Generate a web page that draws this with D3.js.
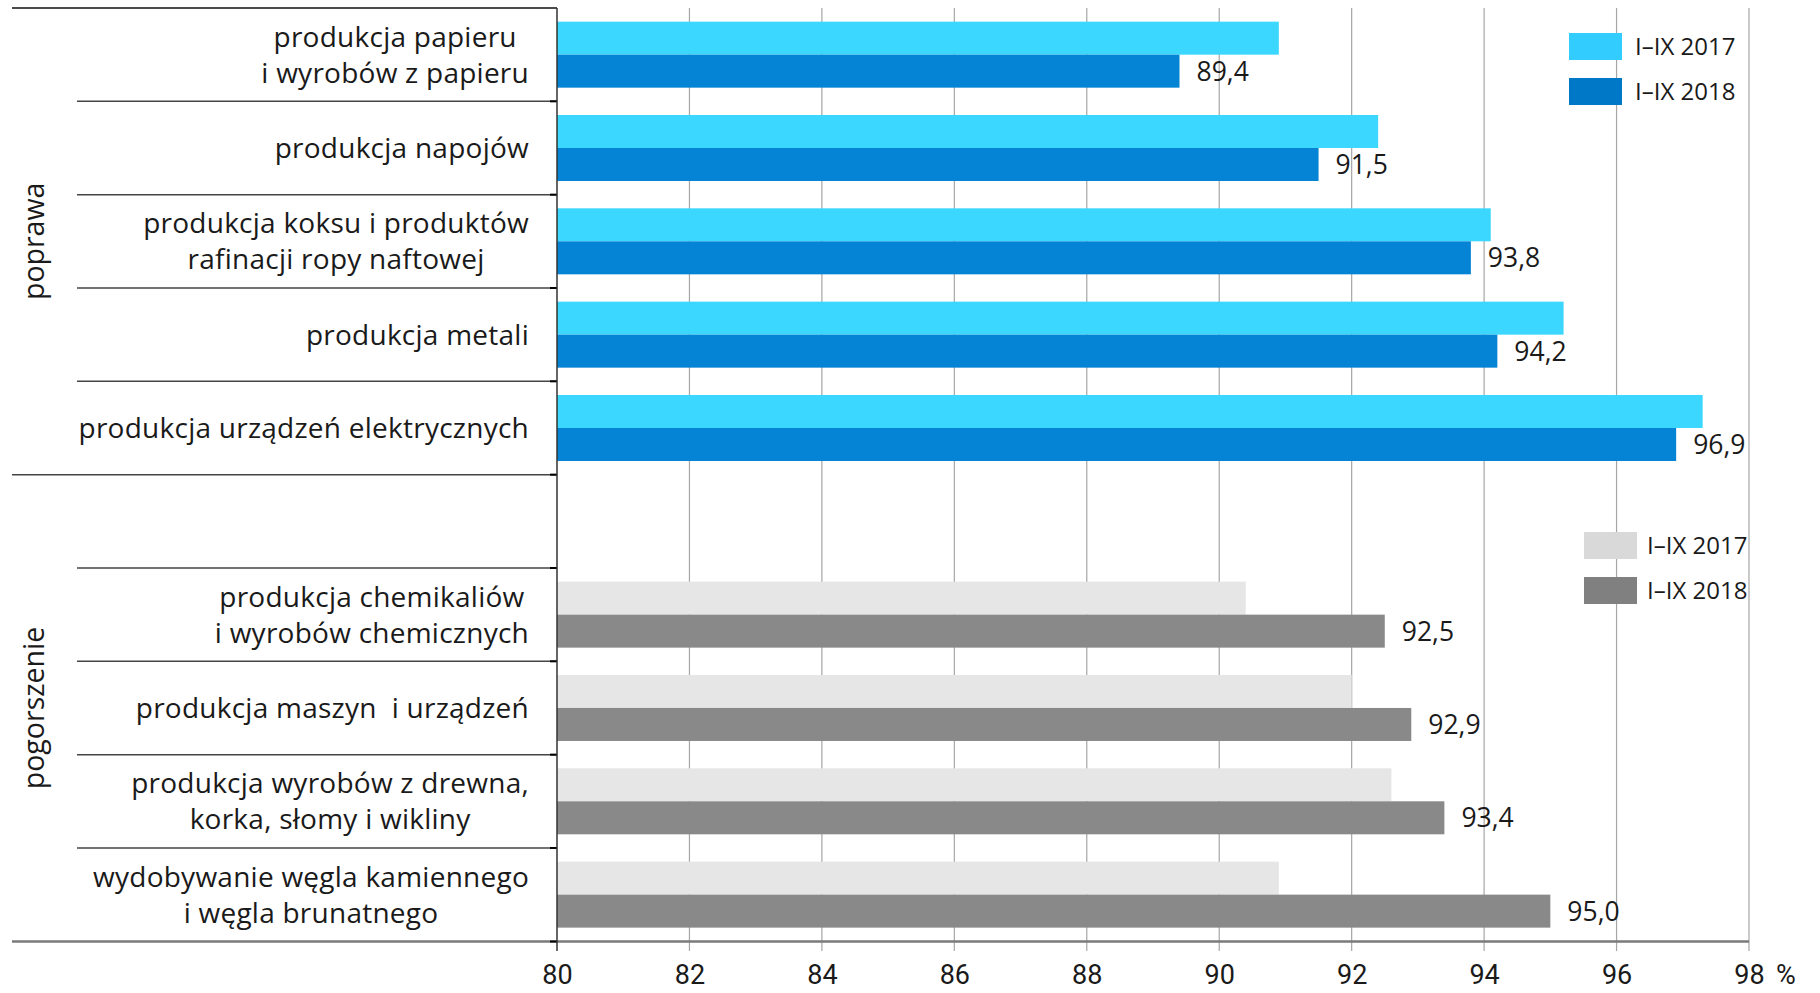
<!DOCTYPE html>
<html>
<head>
<meta charset="utf-8">
<script src="https://cdn.jsdelivr.net/npm/d3@7"></script>
<style>
  html, body { margin: 0; padding: 0; background: #fff; }
  svg { display: block; }
</style>
</head>
<body>
<svg id="chart" width="1820" height="993"></svg>
<script>
// ---- data ----
const groupLabels = ["poprawa", "pogorszenie"];
const upCategories = [
  ["produkcja papieru", "i wyrobów z papieru"],
  ["produkcja napojów"],
  ["produkcja koksu i produktów", "rafinacji ropy naftowej"],
  ["produkcja metali"],
  ["produkcja urządzeń elektrycznych"]
];
const up2017 = [90.9, 92.4, 94.1, 95.2, 97.3];
const up2018 = [89.4, 91.5, 93.8, 94.2, 96.9];
const downCategories = [
  ["produkcja chemikaliów", "i wyrobów chemicznych"],
  ["produkcja maszyn  i urządzeń"],
  ["produkcja wyrobów z drewna,", "korka, słomy i wikliny"],
  ["wydobywanie węgla kamiennego", "i węgla brunatnego"]
];
const down2017 = [90.4, 92.0, 92.6, 90.9];
const down2018 = [92.5, 92.9, 93.4, 95.0];
const seriesNames = ["I–IX 2017", "I–IX 2018"];
const xTicks = [80, 82, 84, 86, 88, 90, 92, 94, 96, 98];
const xUnit = "%";

// ---- styles ----
const colUp = ["#3bd7ff", "#0583d4"];
const colUpLegend = ["#33ccff", "#0078c8"];
const colDown = ["#e6e6e6", "#898989"];
const colDownLegend = ["#d9d9d9", "#808080"];
const textCol = "#1a1a1a";
const catFont = "'Open Sans', sans-serif";
const tickFont = "Roboto, sans-serif";
const legFont = "'Open Sans', sans-serif";

// rows: 5 up, 1 empty slot, 4 down
const rows = [];
upCategories.forEach((c, i) => rows.push({lines: c, v: [up2017[i], up2018[i]], cols: colUp}));
rows.push(null);
downCategories.forEach((c, i) => rows.push({lines: c, v: [down2017[i], down2018[i]], cols: colDown}));

const svg = d3.select("#chart");

const x = d3.scaleLinear().domain([80, 98]).range([557, 1749]);
const y = d3.scaleBand().domain(d3.range(rows.length)).range([8, 941.3]).paddingInner(0).paddingOuter(0);
const sub = d3.scaleBand().domain([0, 1]).range([0, y.step()]).paddingInner(0).paddingOuter(0.414);

const axisY = 941.5;

// grid lines (with tick extension below axis)
svg.append("g").selectAll("line").data(xTicks.slice(1)).join("line")
  .attr("x1", d => x(d)).attr("x2", d => x(d))
  .attr("y1", 8).attr("y2", 951)
  .attr("stroke", "#a6a6a6").attr("stroke-width", 1.2);

// bars
const rowG = svg.append("g").selectAll("g").data(rows.map((r, i) => ({r, i})).filter(d => d.r)).join("g")
  .attr("transform", d => `translate(0,${y(d.i)})`);

rowG.selectAll("rect").data(d => d.r.v.map((v, k) => ({v, k, col: d.r.cols[k]}))).join("rect")
  .attr("x", x(80))
  .attr("y", d => sub(d.k))
  .attr("width", d => x(d.v) - x(80))
  .attr("height", sub.bandwidth())
  .attr("fill", d => d.col);

// value labels (2018 series)
rowG.append("text")
  .attr("x", d => x(d.r.v[1]) + 17)
  .attr("y", sub(1) + sub.bandwidth() / 2)
  .attr("dy", "0.36em")
  .attr("font-family", catFont)
  .attr("font-size", 26.5)
  .attr("fill", textCol)
  .text(d => d3.format(".1f")(d.r.v[1]).replace(".", ","));

// separator lines
const bounds = d3.range(rows.length + 1);
svg.append("g").selectAll("line").data(bounds).join("line")
  .attr("x1", k => (k === 0 || k === 5 || k === rows.length) ? 12 : 77)
  .attr("x2", k => k === rows.length ? x(98) : x(80))
  .attr("y1", k => k === rows.length ? axisY : y(k))
  .attr("y2", k => k === rows.length ? axisY : y(k))
  .attr("stroke", k => k === rows.length ? "#7a7a7a" : (k === 0 ? "#111" : "#444"))
  .attr("stroke-width", k => k === rows.length ? 2.5 : 1.5);

// small ticks at separators left of axis
svg.append("g").selectAll("line").data(bounds.slice(1)).join("line")
  .attr("x1", x(80) - 7).attr("x2", x(80))
  .attr("y1", k => k === rows.length ? axisY : y(k))
  .attr("y2", k => k === rows.length ? axisY : y(k))
  .attr("stroke", "#000").attr("stroke-width", 2);

// main vertical axis line
svg.append("line")
  .attr("x1", x(80)).attr("x2", x(80))
  .attr("y1", 8).attr("y2", 951)
  .attr("stroke", "#333").attr("stroke-width", 1.5);

// x axis tick labels
const xAxis = d3.axisBottom(x).tickValues(xTicks).tickSize(0).tickPadding(0).tickFormat(d3.format("d"));
const ax = svg.append("g").attr("transform", `translate(0,${axisY})`).call(xAxis);
ax.select(".domain").remove();
ax.selectAll("text")
  .attr("y", 33).attr("dy", "0.36em")
  .attr("font-family", tickFont).attr("font-size", 27).attr("fill", textCol);
svg.append("text")
  .attr("x", 1776).attr("y", axisY + 33).attr("dy", "0.36em")
  .attr("font-family", tickFont).attr("font-size", 27).attr("fill", textCol)
  .text(xUnit);

// category labels: block right-aligned, lines centered within block
const labelRight = 529;
const lineH = 36;
rows.forEach((r, i) => {
  if (!r) return;
  const cy = y(i) + y.bandwidth() / 2;
  const g = svg.append("g");
  const texts = r.lines.map((ln, j) => g.append("text")
    .attr("y", cy + (j - (r.lines.length - 1) / 2) * lineH)
    .attr("dy", "0.36em")
    .attr("font-family", catFont)
    .attr("font-size", 28)
    .attr("letter-spacing", 0.25)
    .attr("fill", textCol)
    .attr("text-anchor", "middle")
    .style("white-space", "pre")
    .text(ln));
  const w = d3.max(texts, t => t.node().getComputedTextLength());
  texts.forEach(t => t.attr("x", labelRight - w / 2));
});

// group labels (rotated)
const groupCenters = [(y(0) + y(5)) / 2, (y(5) + 941.3) / 2];
groupLabels.forEach((g, i) => {
  svg.append("text")
    .attr("transform", `translate(34,${groupCenters[i]}) rotate(-90)`)
    .attr("text-anchor", "middle")
    .attr("dy", "0.36em")
    .attr("font-family", legFont)
    .attr("font-size", 28.5)
    .attr("fill", textCol)
    .text(g);
});

// legends
function legend(x0, y0s, cols, tx) {
  const lg = svg.append("g");
  seriesNames.forEach((s, k) => {
    lg.append("rect").attr("x", x0).attr("y", y0s[k]).attr("width", 53).attr("height", 27).attr("fill", cols[k]);
    lg.append("text").attr("x", tx).attr("y", y0s[k] + 13.5).attr("dy", "0.36em")
      .attr("font-family", legFont).attr("font-size", 24).attr("fill", textCol).text(s);
  });
}
legend(1569, [33, 78], colUpLegend, 1635);
legend(1584, [532, 577], colDownLegend, 1647);
</script>
</body>
</html>
